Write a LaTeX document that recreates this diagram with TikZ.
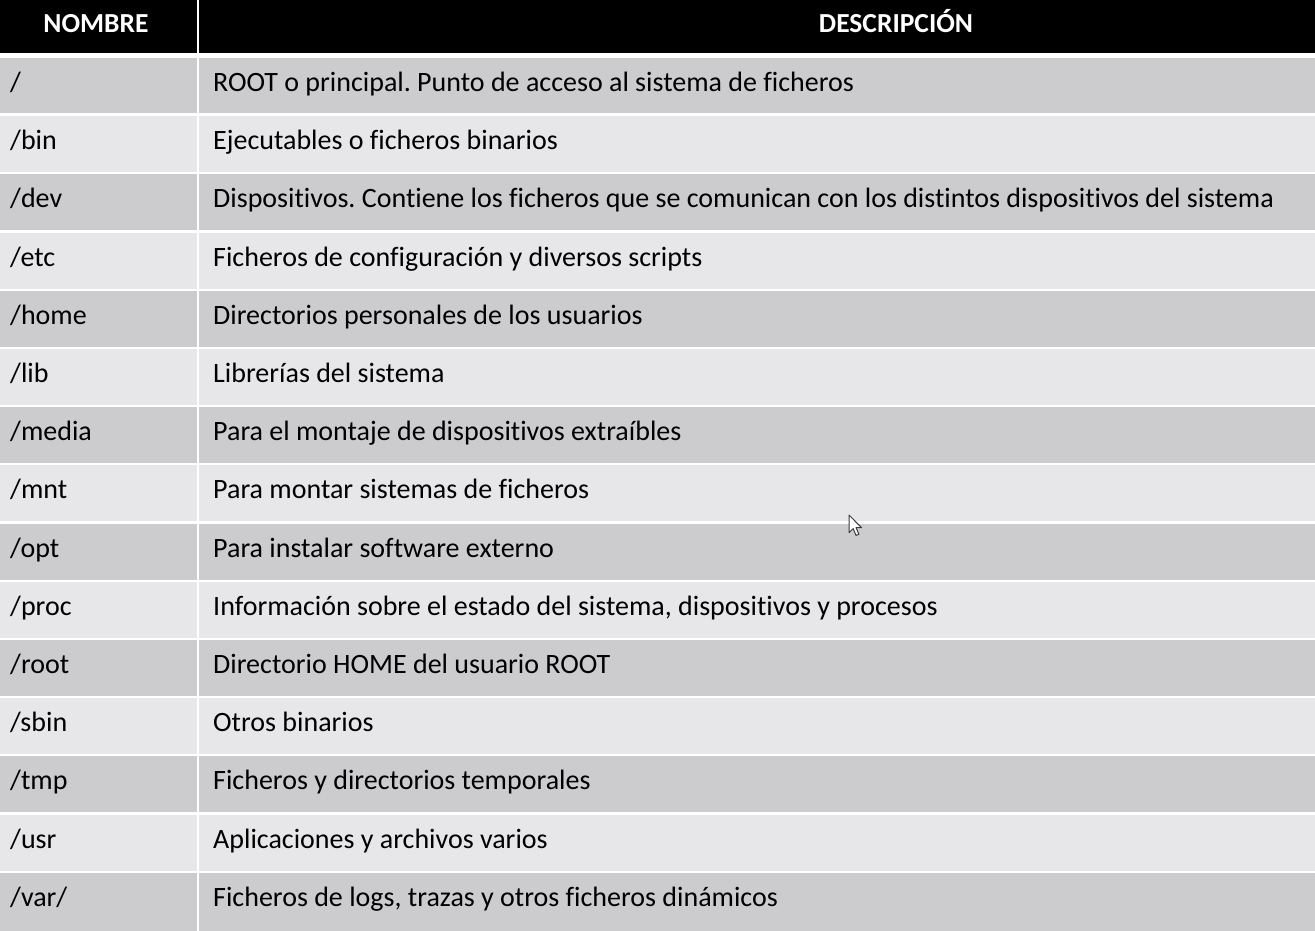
\documentclass[tikz,border=0pt]{standalone}
\usepackage{fontspec}
\setmainfont[Ligatures={NoCommon}]{Carlito}
\frenchspacing
\definecolor{rowdark}{RGB}{204,204,206}
\definecolor{rowlight}{RGB}{231,231,233}
\definecolor{cursoredge}{RGB}{60,60,60}
\newcommand\tabrow[5]{%
  \pgfmathsetmacro\rt{58+58.2*(#1-1)}%
  \pgfmathsetmacro\rb{\rt+#5}%
  \pgfmathsetmacro\bl{\rt+33.5}%
  \fill[#2] (0,-\rt) rectangle (197,-\rb);
  \fill[#2] (199,-\rt) rectangle (1315,-\rb);
  \node[celltext] (n#1) at (10,-\bl) {#3};
  \node[celltext] (d#1) at (213,-\bl) {#4};
}
\begin{document}
\begin{tikzpicture}[x=1pt,y=1pt,
  celltext/.style={anchor=base west, inner sep=0pt, text=black, font=\fontsize{28}{32}\selectfont},
  hdrtext/.style={anchor=base, inner sep=0pt, text=white, font=\fontsize{27.5}{32}\selectfont\bfseries}]
\useasboundingbox (0,0) rectangle (1315,-931);
\fill[white] (0,0) rectangle (1315,-931);
% header
\fill[black] (0,0) rectangle (197,-53);
\fill[black] (199,0) rectangle (1315,-53);
\node[hdrtext] (hn) at (96,-32.5) {NOMBRE};
\node[hdrtext] (hd) at (896,-32.5) {DESCRIPCIÓN};
% rows
\tabrow{1}{rowdark}{/}{ROOT o principal. Punto de acceso al sistema de ficheros}{55}
\tabrow{2}{rowlight}{/bin}{Ejecutables o ficheros binarios}{56}
\tabrow{3}{rowdark}{/dev}{Dispositivos. Contiene los ficheros que se comunican con los distintos dispositivos del sistema}{56}
\tabrow{4}{rowlight}{/etc}{Ficheros de configuración y diversos scripts}{56}
\tabrow{5}{rowdark}{/home}{Directorios personales de los usuarios}{56}
\tabrow{6}{rowlight}{/lib}{Librerías del sistema}{56}
\tabrow{7}{rowdark}{/media}{Para el montaje de dispositivos extraíbles}{56}
\tabrow{8}{rowlight}{/mnt}{Para montar sistemas de ficheros}{56}
\tabrow{9}{rowdark}{/opt}{Para instalar software externo}{56}
\tabrow{10}{rowlight}{/proc}{Información sobre el estado del sistema, dispositivos y procesos}{56}
\tabrow{11}{rowdark}{/root}{Directorio HOME del usuario ROOT}{56}
\tabrow{12}{rowlight}{/sbin}{Otros binarios}{56}
\tabrow{13}{rowdark}{/tmp}{Ficheros y directorios temporales}{56}
\tabrow{14}{rowlight}{/usr}{Aplicaciones y archivos varios}{56}
\tabrow{15}{rowdark}{/var/}{Ficheros de logs, trazas y otros ficheros dinámicos}{59}
% mouse cursor
\begin{scope}[shift={(849,-515)}, scale=1.1]
\draw[fill=white, draw=cursoredge, line width=1pt, line join=round]
  (0,0) -- (0,-16) -- (3.8,-12.4) -- (6.4,-18.6) -- (9,-17.5) -- (6.4,-11.5) -- (11.4,-11.5) -- cycle;
\end{scope}
\end{tikzpicture}
\end{document}
